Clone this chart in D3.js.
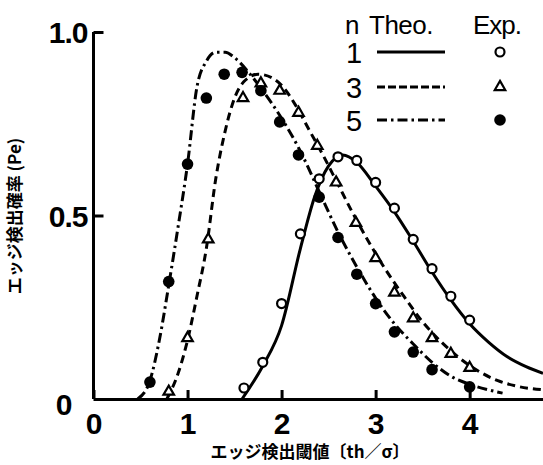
<!DOCTYPE html>
<html>
<head>
<meta charset="utf-8">
<script src="https://cdn.jsdelivr.net/npm/d3@7"></script>
<style>
  body { margin: 0; background: #fff; }
  text { fill: #000; }
</style>
</head>
<body>
<script>
// theoretical curves as [th/sigma, Pe]
const theo1 = [[1.58,0],[1.8,0.09],[2.0,0.2],[2.2,0.41],[2.35,0.55],[2.5,0.635],[2.65,0.665],[2.8,0.645],
  [3.0,0.58],[3.2,0.51],[3.4,0.43],[3.6,0.346],[3.8,0.27],[4.0,0.205],[4.2,0.155],[4.4,0.115],[4.6,0.088],[4.78,0.07]]
const theo3 = [[0.78,0],[0.9,0.07],[1.0,0.16],[1.1,0.28],[1.2,0.41],[1.3,0.6],[1.4,0.73],[1.5,0.82],[1.6,0.865],
  [1.75,0.885],[1.9,0.875],[2.0,0.855],[2.15,0.8],[2.3,0.73],[2.45,0.66],[2.6,0.585],[2.75,0.51],[2.9,0.44],
  [3.1,0.355],[3.3,0.28],[3.5,0.21],[3.7,0.155],[3.9,0.11],[4.1,0.075],[4.3,0.05],[4.5,0.035],[4.78,0.025]]
const theo5 = [[0.47,0],[0.6,0.05],[0.7,0.16],[0.8,0.31],[0.9,0.47],[1.0,0.64],[1.1,0.85],[1.2,0.92],[1.3,0.945],
  [1.4,0.945],[1.5,0.93],[1.65,0.89],[1.8,0.84],[2.0,0.765],[2.2,0.675],[2.4,0.565],[2.6,0.455],[2.8,0.36],
  [3.0,0.275],[3.2,0.205],[3.4,0.15],[3.6,0.1],[3.8,0.062],[4.0,0.04],[4.2,0.025],[4.35,0.016]]

// experimental points
const exp1 = [[1.6,0.03],[1.8,0.1],[2.0,0.26],[2.2,0.45],[2.4,0.6],[2.6,0.66],[2.8,0.65],[3.0,0.59],
  [3.2,0.52],[3.4,0.435],[3.6,0.355],[3.8,0.28],[4.0,0.215]]
const exp3 = [[0.8,0.02],[1.0,0.166],[1.22,0.435],[1.59,0.82],[1.78,0.86],[1.98,0.84],[2.18,0.78],[2.38,0.69],
  [2.58,0.59],[2.79,0.48],[3.0,0.384],[3.2,0.29],[3.4,0.22],[3.6,0.166],[3.8,0.123],[4.0,0.085]]
const exp5 = [[0.6,0.046],[0.8,0.32],[1.0,0.64],[1.2,0.82],[1.39,0.885],[1.58,0.89],[1.78,0.84],[1.98,0.755],
  [2.18,0.665],[2.4,0.55],[2.6,0.44],[2.8,0.34],[3.0,0.26],[3.2,0.183],[3.4,0.128],[3.6,0.08],[4.0,0.033]]

const nLabels = ['1', '3', '5']
const xTicks = [0, 1, 2, 3, 4]
const yTicks = [0, 0.5, 1.0]

const m = { width: 543, height: 465, left: 93.5, top: 32, bottom: 399, right: 543 }

const svg = d3.select('body').append('svg')
    .attr('width', m.width)
    .attr('height', m.height)

const x = d3.scaleLinear().domain([0, 4.78]).range([m.left, m.right])
const y = d3.scaleLinear().domain([0, 1]).range([m.bottom, m.top])

const numFont = '"Liberation Sans", Arial, sans-serif'
const jpFont = '"Noto Sans CJK JP", sans-serif'

// axes, ticks pointing inward
const xAxis = svg.append('g')
    .attr('transform', `translate(0,${m.bottom})`)
    .call(d3.axisBottom(x).tickValues(xTicks).tickFormat(d3.format('d'))
      .tickSizeInner(-9).tickSizeOuter(0).tickPadding(14))
const yAxis = svg.append('g')
    .attr('transform', `translate(${m.left},0)`)
    .call(d3.axisLeft(y).tickValues(yTicks).tickFormat(d => d === 0 ? '0' : d3.format('.1f')(d))
      .tickSizeInner(-10).tickSizeOuter(0).tickPadding(6))

svg.selectAll('.domain, .tick line')
    .attr('stroke', '#000')
    .attr('stroke-width', 3)
svg.selectAll('.tick text')
    .attr('font-family', numFont)
    .attr('font-size', 30)
    .attr('font-weight', 'bold')
yAxis.selectAll('.tick text').attr('dy', '0.36em').attr('letter-spacing', -1)
yAxis.selectAll('.tick').filter(d => d === 0).select('text').attr('x', -22).attr('dy', '0.5em')
yAxis.select('.domain').attr('d', `M0,${m.bottom}V${m.top}`)

// theoretical curves
const line = d3.line()
    .x(d => x(d[0]))
    .y(d => y(d[1]))
    .curve(d3.curveMonotoneX)

const dashes = ['none', '8,5', '10,4,2.5,4']
const theos = [theo1, theo3, theo5]

svg.selectAll('.theo')
    .data(theos)
    .enter()
    .append('path')
        .attr('class', 'theo')
        .attr('d', line)
        .attr('fill', 'none')
        .attr('stroke', '#000')
        .attr('stroke-width', 3)
        .attr('stroke-dasharray', (d, i) => dashes[i])

// experimental markers
const tri = d3.symbol().type(d3.symbolTriangle).size(48)

svg.selectAll('.e1')
    .data(exp1)
    .enter()
    .append('circle')
        .attr('cx', d => x(d[0]))
        .attr('cy', d => y(d[1]))
        .attr('r', 4.5)
        .attr('fill', '#fff')
        .attr('stroke', '#000')
        .attr('stroke-width', 2.2)

svg.selectAll('.e3')
    .data(exp3)
    .enter()
    .append('path')
        .attr('d', tri)
        .attr('transform', d => `translate(${x(d[0])},${y(d[1])})`)
        .attr('fill', '#fff')
        .attr('stroke', '#000')
        .attr('stroke-width', 2.2)

svg.selectAll('.e5')
    .data(exp5)
    .enter()
    .append('circle')
        .attr('cx', d => x(d[0]))
        .attr('cy', d => y(d[1]))
        .attr('r', 5.8)
        .attr('fill', '#000')

// legend
const lg = svg.append('g').attr('font-family', numFont)
lg.append('text').attr('x', 345).attr('y', 34).attr('font-size', 26).text('n')
lg.append('text').attr('x', 369).attr('y', 34).attr('font-size', 26).attr('letter-spacing', -0.5).text('Theo.')
lg.append('text').attr('x', 473).attr('y', 34).attr('font-size', 26).attr('letter-spacing', -1).text('Exp.')

const rowY = [52, 87, 120]
nLabels.forEach(function(n, i) {
  lg.append('text').attr('x', 346).attr('y', rowY[i] + 11).attr('font-size', 29).text(n)
  lg.append('line')
      .attr('x1', 377).attr('x2', 445)
      .attr('y1', rowY[i]).attr('y2', rowY[i])
      .attr('stroke', '#000').attr('stroke-width', 3)
      .attr('stroke-dasharray', i === 1 ? '8,3' : dashes[i])
})
lg.append('circle').attr('cx', 500).attr('cy', rowY[0]).attr('r', 4.5)
    .attr('fill', '#fff').attr('stroke', '#000').attr('stroke-width', 2.2)
lg.append('path').attr('d', tri).attr('transform', `translate(500,${rowY[1]})`)
    .attr('fill', '#fff').attr('stroke', '#000').attr('stroke-width', 2.2)
lg.append('circle').attr('cx', 500).attr('cy', rowY[2]).attr('r', 5.8).attr('fill', '#000')

// axis titles
svg.append('text')
    .attr('x', 310).attr('y', 458)
    .attr('text-anchor', 'middle')
    .attr('font-family', jpFont)
    .attr('font-weight', 'bold')
    .attr('font-size', 17)
    .text('エッジ検出閾値〔th／σ〕')

svg.append('text')
    .attr('transform', 'translate(21,216) rotate(-90)')
    .attr('text-anchor', 'middle')
    .attr('font-family', jpFont)
    .attr('font-weight', 'bold')
    .attr('font-size', 17)
    .text('エッジ検出確率 (Pe)')
</script>
</body>
</html>
